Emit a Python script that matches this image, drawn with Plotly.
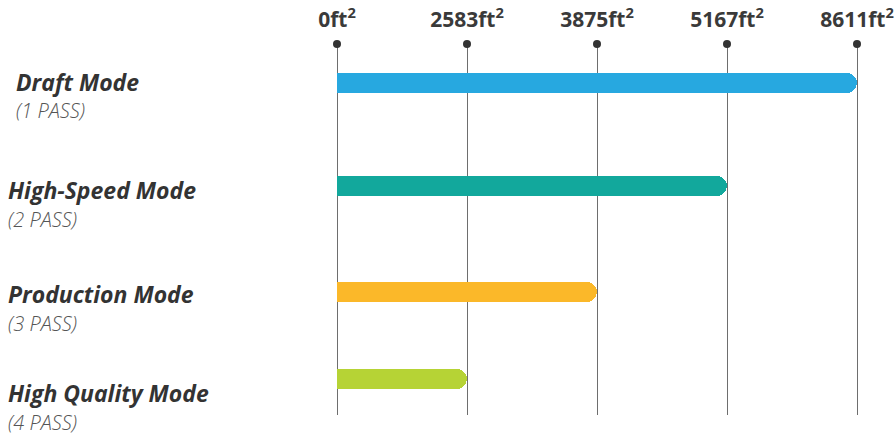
import plotly.graph_objects as go

# ---- data ----
modes = ["Draft Mode", "High-Speed Mode", "Production Mode", "High Quality Mode"]
passes = ["(1 PASS)", "(2 PASS)", "(3 PASS)", "(4 PASS)"]
area_sqft = [8611, 5167, 3875, 2583]
tick_values = [0, 2583, 3875, 5167, 8611]
tick_labels = [f"{v}ft<sup>2</sup>" for v in tick_values]

# ---- style / layout constants ----
bar_colors = ["#27a8e0", "#12a89c", "#fbb829", "#b6d335"]
row_pos = [0.0, 1.03, 2.09, 2.96]          # vertical row centres (axis units)
label_offset = [-0.01, 0.04, 0.02, 0.14]   # title centre relative to bar
label_indent = [14, 6, 6, 6]               # px from left edge
SUB_GAP = 0.29
W, H = 895, 437
TOP, BOTTOM = 44, 22
Y_TOP, Y_BOT = -0.39, 3.32
X0 = -337 / 130
X1 = X0 + W / 130
FONT = "Open Sans"


def to_paper(yv):
    return 1 - (yv - Y_TOP) / (Y_BOT - Y_TOP)


# ordinal position of each value on the tick scale
bar_pos = [tick_values.index(v) for v in area_sqft]

fig = go.Figure()
# rounded bars
fig.add_trace(go.Bar(
    x=bar_pos, y=row_pos, orientation="h", width=0.2,
    marker=dict(color=bar_colors, cornerradius=10, line_width=0),
    hoverinfo="skip", showlegend=False))
# square-cornered cover for flat left end
fig.add_trace(go.Bar(
    x=[p - 0.12 for p in bar_pos], y=row_pos, orientation="h", width=0.2,
    marker=dict(color=bar_colors, line_width=0),
    hoverinfo="skip", showlegend=False))
# dots on top of each gridline
fig.add_trace(go.Scatter(
    x=list(range(len(tick_values))), y=[Y_TOP] * len(tick_values),
    mode="markers", marker=dict(color="#333333", size=8),
    cliponaxis=False, hoverinfo="skip", showlegend=False))

for i, (m, p) in enumerate(zip(modes, passes)):
    yc = row_pos[i] + label_offset[i]
    fig.add_annotation(x=label_indent[i] / W, xref="paper", y=to_paper(yc), yref="paper",
                       text=m, showarrow=False, xanchor="left", yanchor="middle",
                       font=dict(family=FONT, size=23, color="#333333",
                                 weight=700, style="italic"))
    fig.add_annotation(x=label_indent[i] / W, xref="paper", y=to_paper(yc + SUB_GAP),
                       yref="paper",
                       text=p, showarrow=False, xanchor="left", yanchor="middle",
                       font=dict(family=FONT, size=20, color="#555555",
                                 weight=300, style="italic"))

fig.update_layout(
    width=W, height=H,
    margin=dict(l=0, r=0, t=TOP, b=BOTTOM, pad=0),
    paper_bgcolor="white", plot_bgcolor="white",
    barmode="overlay", bargap=0,
    xaxis=dict(range=[X0, X1], side="top",
               tickvals=list(range(len(tick_values))), ticktext=tick_labels,
               showgrid=True, gridcolor="#6e6e6e", gridwidth=1,
               zeroline=False, showline=False, ticks="", ticklabelstandoff=12,
               tickfont=dict(family=FONT, size=21, color="#3a3a3a", weight=700)),
    yaxis=dict(range=[Y_BOT, Y_TOP], showgrid=False, zeroline=False,
               showticklabels=False, showline=False, ticks=""),
)

fig.write_html("out.html", config={"displayModeBar": False},
               post_script="document.body.style.margin='0';document.body.style.overflow='hidden';")
